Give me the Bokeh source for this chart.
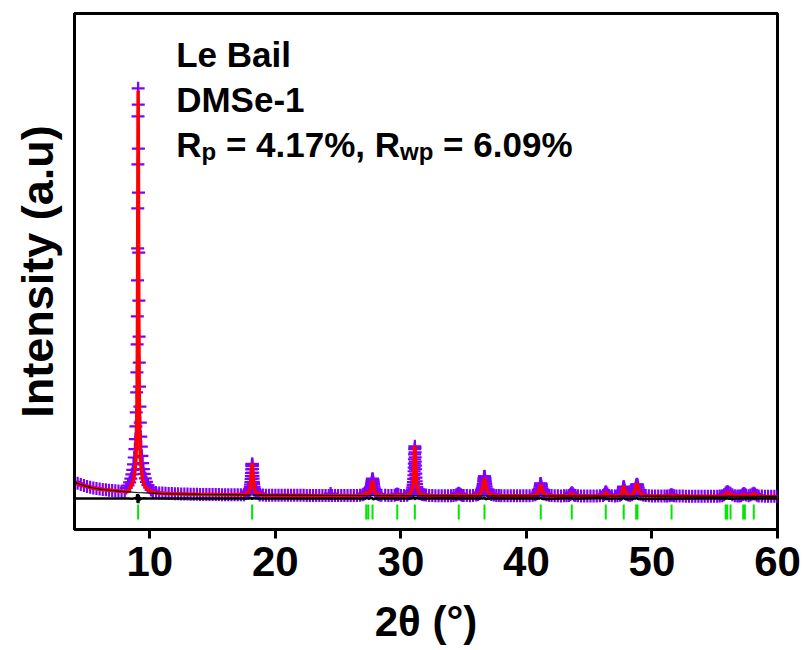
from bokeh.plotting import figure
from bokeh.models import Range1d, FixedTicker, Label
from bokeh.embed import file_html
from bokeh.resources import INLINE

# ---------------- data ----------------
x_ticks = [10, 20, 30, 40, 50, 60]

# observed profile (plotted as + markers)
obs_x = [
    4.0, 4.25, 4.5, 4.75, 5.0, 5.25, 5.5, 5.75, 6.0, 6.25, 6.5, 6.75, 7.0, 7.25, 7.5, 7.75, 8.0,
    8.12, 8.27, 8.39, 8.49, 8.57, 8.64, 8.70, 8.76, 8.81, 8.85, 8.89, 8.92, 8.95, 8.97, 8.99, 9.005,
    9.02, 9.03, 9.04, 9.05, 9.06, 9.07, 9.08, 9.09, 9.10, 9.115, 9.13, 9.145, 9.16, 9.18, 9.21, 9.24,
    9.28, 9.32, 9.37, 9.43, 9.49, 9.56, 9.64, 9.73, 9.85, 9.99,
    10.1, 10.25, 10.5, 10.75, 11.0, 11.25, 11.5, 11.75, 12.0, 12.25, 12.5, 12.75, 13.0, 13.25, 13.5,
    13.75, 14.0, 14.25, 14.5, 14.75, 15.0, 15.25, 15.5, 15.75, 16.0, 16.25, 16.5, 16.75, 17.0, 17.25, 17.5,
    17.65, 17.77, 17.85, 17.91, 17.96, 18.0, 18.03, 18.05, 18.07, 18.085, 18.10, 18.115, 18.13, 18.14,
    18.15, 18.16, 18.17, 18.185, 18.20, 18.215, 18.23, 18.25, 18.27, 18.30, 18.34, 18.39, 18.45,
    18.53, 18.65,
    18.75, 19.0, 19.25, 19.5, 19.75, 20.0, 20.25, 20.5, 20.75, 21.0, 21.25, 21.5, 21.75, 22.0, 22.25,
    22.5, 22.75, 23.0, 23.25, 23.5, 23.75, 24.0, 24.25, 24.4, 24.5, 24.75, 25.0, 25.25, 25.5, 25.75,
    26.0, 26.25, 26.5, 26.75,
    26.95, 27.05, 27.13, 27.2, 27.26, 27.31, 27.36, 27.42, 27.48, 27.53, 27.57, 27.6, 27.63, 27.66,
    27.68, 27.7, 27.72, 27.74, 27.76, 27.78, 27.8, 27.82, 27.85, 27.88, 27.92, 27.97, 28.03, 28.1,
    28.2, 28.32, 28.45,
    28.75, 29.0, 29.25, 29.5, 29.62, 29.71, 29.8, 30.0, 30.25, 30.5,
    30.66, 30.77, 30.85, 30.91, 30.95, 30.98, 31.0, 31.02, 31.035, 31.05, 31.06, 31.07, 31.08, 31.09,
    31.10, 31.11, 31.12, 31.13, 31.14, 31.15, 31.16, 31.17, 31.185, 31.20, 31.22, 31.24, 31.27,
    31.31, 31.37, 31.45, 31.56, 31.71,
    31.85, 32.0, 32.25, 32.5, 32.75, 33.0, 33.25, 33.5, 33.75, 34.0, 34.2,
    34.4, 34.5, 34.58, 34.62, 34.68, 34.78, 34.9,
    35.0, 35.25, 35.5, 35.75, 36.0,
    36.15, 36.28, 36.37, 36.44, 36.49, 36.53, 36.56, 36.59, 36.61, 36.63, 36.65, 36.66, 36.67, 36.69,
    36.71, 36.73, 36.76, 36.79, 36.83, 36.88, 36.95, 37.04, 37.2,
    37.4, 37.6, 37.8, 38.0, 38.25, 38.5, 38.75, 39.0, 39.25, 39.5, 39.75, 40.0, 40.25, 40.5,
    40.7, 40.83, 40.92, 40.99, 41.04, 41.08, 41.11, 41.13, 41.14, 41.15, 41.17, 41.2, 41.24, 41.29,
    41.36, 41.46, 41.6,
    41.8, 42.0, 42.25, 42.5, 42.75, 43.0, 43.2,
    43.4, 43.5, 43.58, 43.62, 43.68, 43.78, 43.9,
    44.1, 44.35, 44.6, 44.85, 45.1, 45.35, 45.6, 45.85,
    46.1, 46.2, 46.28, 46.32, 46.37, 46.45, 46.58,
    46.8, 47.05, 47.25,
    47.45, 47.55, 47.62, 47.67, 47.71, 47.74, 47.75, 47.77, 47.8, 47.84, 47.9, 47.98, 48.1, 48.25,
    48.4, 48.5, 48.58, 48.64, 48.69, 48.73, 48.76, 48.8, 48.83, 48.86, 48.9, 48.95, 49.02, 49.12, 49.3,
    49.5, 49.75, 50.0, 50.25, 50.5, 50.75, 51.0, 51.2,
    51.4, 51.5, 51.56, 51.64, 51.75,
    51.95, 52.2, 52.45, 52.7, 52.95, 53.2, 53.45, 53.7, 53.95, 54.2, 54.45, 54.7, 54.95, 55.2, 55.4,
    55.6, 55.75, 55.87, 55.95, 56.02, 56.1, 56.25, 56.4, 56.6,
    56.8, 56.95,
    57.1, 57.22, 57.3, 57.38, 57.5,
    57.7, 57.85, 58.0, 58.1, 58.2, 58.35, 58.5,
    58.75, 59.0, 59.25, 59.5, 59.75, 60.0,
]
obs_y = [
    1190, 1155, 1125, 1098, 1075, 1055, 1040, 1025, 1013, 1003, 993, 984, 975, 968, 962, 956, 955,
    1040, 1100, 1180, 1270, 1380, 1490, 1630, 1800, 2010, 2260, 2580, 2930, 3430, 3930, 4630, 5330,
    6230, 7030, 8030, 9130, 10330, 11030, 10620, 9520, 8420, 6920, 5720, 4820, 4170, 3570, 3070, 2670,
    2320, 2070, 1840, 1660, 1510, 1390, 1280, 1190, 1110, 1045,
    990, 945, 922, 915, 910, 905, 900, 897, 893, 891, 889, 887, 885, 883, 881,
    880, 878, 877, 876, 875, 874, 873, 872, 871, 870, 869, 868, 868, 867, 866, 870,
    902, 922, 947, 977, 1012, 1062, 1122, 1182, 1262, 1332, 1412, 1502, 1582, 1627,
    1640, 1632, 1592, 1512, 1422, 1342, 1272, 1192, 1132, 1067, 1017, 980, 950,
    924, 904,
    865, 860, 859, 858, 858, 857, 857, 856, 856, 855, 855, 855, 854, 854, 854,
    853, 853, 853, 852, 852, 852, 851, 851, 900, 851, 850, 850, 850, 850, 849,
    849, 849, 850, 856,
    868, 885, 905, 928, 942, 945, 935, 932, 950, 975, 1005, 1040, 1085, 1135,
    1175, 1215, 1250, 1270, 1255, 1220, 1180, 1135, 1080, 1030, 985, 945, 915, 893,
    876, 864, 858,
    855, 852, 851, 858, 875, 890, 872, 852, 850, 855,
    891, 916, 951, 996, 1051, 1116, 1186, 1266, 1356, 1456, 1546, 1646, 1756, 1876,
    2006, 2080, 2036, 1926, 1806, 1696, 1596, 1506, 1396, 1296, 1206, 1136, 1061,
    1006, 956, 921, 894, 878,
    866, 860, 852, 848, 846, 845, 845, 845, 844, 846, 852,
    862, 882, 900, 905, 890, 866, 852,
    850, 847, 845, 850, 862,
    877, 902, 937, 982, 1032, 1087, 1142, 1202, 1252, 1292, 1322, 1330, 1320, 1287,
    1242, 1192, 1132, 1077, 1022, 972, 932, 902, 877,
    860, 852, 848, 846, 844, 843, 842, 842, 841, 841, 841, 842, 846, 855,
    870, 895, 930, 975, 1025, 1075, 1120, 1145, 1150, 1142, 1115, 1070, 1020, 970,
    928, 895, 870,
    858, 850, 845, 842, 840, 841, 845,
    850, 872, 905, 920, 900, 865, 848,
    842, 840, 839, 839, 838, 838, 838, 842,
    850, 878, 920, 945, 925, 885, 852,
    842, 840, 845,
    856, 878, 915, 965, 1020, 1060, 1070, 1055, 1020, 970, 915, 880, 862, 858,
    870, 895, 935, 985, 1040, 1085, 1115, 1130, 1122, 1095, 1050, 995, 935, 890, 860,
    848, 842, 838, 837, 836, 836, 836, 838,
    845, 860, 870, 858, 842,
    837, 835, 835, 834, 834, 834, 833, 833, 833, 832, 832, 832, 832, 834, 838,
    845, 870, 910, 940, 945, 930, 905, 870, 845,
    838, 840,
    845, 875, 900, 890, 860,
    845, 860, 890, 908, 885, 855, 840,
    835, 833, 832, 830, 829, 828,
]

# calculated profile (red line)
calc_x = [
    4.0, 4.25, 4.5, 4.75, 5.0, 5.5, 6.0, 6.5, 7.0, 7.5, 8.0, 8.3,
    8.45, 8.6, 8.72, 8.82, 8.9, 8.95, 8.99, 9.02, 9.04, 9.06, 9.07, 9.08, 9.10, 9.12, 9.15, 9.19,
    9.24, 9.32, 9.42, 9.55, 9.72, 9.9,
    10.2, 10.5, 11.0, 12.0, 13.0, 14.0, 15.0, 16.0, 17.0, 17.5,
    17.65, 17.8, 17.9, 17.98, 18.03, 18.07, 18.10, 18.13, 18.15, 18.17, 18.20, 18.23, 18.27, 18.32,
    18.40, 18.50, 18.65,
    19.0, 20.0, 21.0, 22.0, 23.0, 24.0, 25.0, 26.0, 26.75,
    26.95, 27.1, 27.2, 27.27, 27.33, 27.4, 27.48, 27.55, 27.61, 27.66, 27.7, 27.74, 27.78, 27.82,
    27.87, 27.93, 28.0, 28.1, 28.25, 28.45,
    28.75, 29.25, 29.5, 29.62, 29.71, 29.8, 30.0, 30.5,
    30.65, 30.8, 30.9, 30.97, 31.02, 31.05, 31.08, 31.11, 31.14, 31.17, 31.21, 31.26, 31.33, 31.42,
    31.55, 31.7,
    32.0, 32.5, 33.0, 34.0, 34.4, 34.5, 34.61, 34.72, 34.85, 35.25, 35.75, 36.0,
    36.15, 36.3, 36.4, 36.48, 36.54, 36.59, 36.63, 36.66, 36.69, 36.73, 36.78, 36.85, 36.94, 37.05, 37.2,
    37.5, 38.0, 39.0, 40.0, 40.5,
    40.7, 40.85, 40.95, 41.02, 41.07, 41.11, 41.14, 41.17, 41.21, 41.27, 41.35, 41.46, 41.6,
    41.8, 42.25, 43.0, 43.4, 43.5, 43.61, 43.7, 43.8, 44.5, 45.5,
    46.1, 46.2, 46.28, 46.32, 46.37, 46.45, 46.58, 47.0, 47.45,
    47.57, 47.65, 47.7, 47.75, 47.8, 47.87, 47.97, 48.1, 48.25, 48.4, 48.52, 48.62, 48.7, 48.76,
    48.8, 48.85, 48.92, 49.0, 49.12, 49.3,
    49.6, 50.5, 51.4, 51.5, 51.56, 51.64, 51.75, 53.0, 55.0,
    55.6, 55.75, 55.87, 55.95, 56.02, 56.1, 56.25, 56.4, 56.6,
    57.1, 57.22, 57.3, 57.38, 57.5, 57.7, 57.85, 58.0, 58.1, 58.2, 58.35, 58.5, 59.0, 60.0,
]
calc_y = [
    1188, 1152, 1125, 1098, 1075, 1038, 1013, 993, 975, 962, 950, 948,
    1070, 1140, 1255, 1470, 1800, 2380, 3550, 5400, 7800, 10300, 10975, 10300, 8100, 5800, 3750, 2480,
    1840, 1480, 1250, 1120, 1040, 985,
    935, 918, 908, 893, 885, 878, 874, 870, 867, 866,
    894, 920, 962, 1055, 1195, 1370, 1525, 1635, 1660, 1630, 1505, 1355, 1180, 1050,
    960, 917, 893,
    862, 857, 855, 854, 852, 851, 850, 849, 852,
    868, 888, 915, 925, 918, 910, 925, 960, 1020, 1100, 1180, 1225, 1175, 1100,
    1020, 950, 908, 880, 864, 857,
    853, 850, 853, 862, 870, 860, 850, 850,
    890, 930, 998, 1145, 1415, 1680, 1960, 2100, 1985, 1735, 1420, 1180, 1022, 938,
    897, 878,
    858, 848, 845, 845, 852, 862, 880, 862, 850, 847, 850, 860,
    872, 902, 948, 1012, 1100, 1190, 1250, 1270, 1245, 1175, 1085, 995, 930, 895, 872,
    855, 846, 842, 842, 853,
    866, 895, 948, 1015, 1070, 1102, 1110, 1095, 1050, 982, 920, 882, 865,
    852, 843, 841, 846, 862, 915, 875, 852, 840, 838,
    845, 870, 915, 945, 920, 878, 850, 840, 852,
    878, 945, 1035, 1085, 1040, 950, 885, 860, 856, 868, 900, 975, 1065, 1125,
    1140, 1120, 1040, 955, 892, 858,
    845, 838, 842, 852, 865, 850, 840, 835, 832,
    840, 860, 895, 918, 925, 915, 895, 865, 845,
    840, 862, 880, 870, 850, 842, 853, 880, 900, 878, 850, 838, 832, 828,
]

# background (thin black line)
bkg_x = [4, 4.5, 5, 5.5, 6, 7, 8, 9, 10, 11, 12, 14, 16, 18, 20, 25, 30, 35, 40, 45, 50, 55, 60]
bkg_y = [1188, 1125, 1075, 1038, 1013, 975, 948, 925, 908, 898, 890, 878, 870, 862, 857, 850,
         846, 843, 840, 837, 834, 831, 827]

# difference curve (offset, black line)
diff_x = [4.0, 8.3, 8.6, 8.8, 8.9, 8.95, 9.0, 9.03, 9.06, 9.09, 9.12, 9.16, 9.22, 9.3, 9.5, 9.8,
          17.95, 18.08, 18.15, 18.22, 18.35, 27.2, 27.3, 27.45, 27.68, 27.8, 27.95, 29.6, 29.75,
          30.9, 31.05, 31.12, 31.2, 31.35, 34.5, 34.65, 36.55, 36.65, 36.75, 36.9, 41.05, 41.15,
          41.25, 43.55, 43.65, 46.25, 46.35, 47.68, 47.76, 47.85, 48.7, 48.8, 48.9, 56.0, 56.1,
          58.05, 58.15, 60.0]
diff_y = [775, 775, 768, 785, 760, 800, 880, 665, 895, 655, 860, 720, 800, 765, 780, 775,
          775, 800, 750, 795, 775, 775, 795, 765, 800, 750, 780, 778, 772,
          775, 810, 745, 800, 775, 780, 772, 775, 805, 755, 775, 775, 795,
          765, 783, 770, 785, 768, 775, 792, 765, 775, 795, 760, 782, 770,
          780, 772, 775]

# Bragg reflection positions (green ticks)
bragg_x = [9.07, 18.15, 27.24, 27.40, 27.74, 29.71, 31.11, 34.61, 36.66, 41.14, 43.61, 46.32,
           47.75, 48.74, 48.85, 51.56, 55.87, 55.99, 56.26, 57.27, 57.40, 58.11]

assert len(obs_x) == len(obs_y)
assert len(calc_x) == len(calc_y)
assert len(diff_x) == len(diff_y)
assert len(bkg_x) == len(bkg_y)

# ---------------- styling constants ----------------
FONT = "Liberation Sans"
OBS_COLOR = "#8000ff"
CALC_COLOR = "#ff0000"
BRAGG_COLOR = "#00e600"
TICK_LOW, TICK_HIGH = 250, 625
NB = "\u00a0"

p = figure(width=806, height=650, x_range=Range1d(4, 60), y_range=Range1d(0, 12900),
           output_backend="svg", toolbar_location=None,
           min_border_left=74, min_border_right=29, min_border_top=13, min_border_bottom=121)
p.background_fill_color = "white"
p.border_fill_color = "white"
p.xgrid.visible = False
p.ygrid.visible = False
p.outline_line_color = "black"
p.outline_line_width = 3

xa = p.xaxis[0]
xa.ticker = FixedTicker(ticks=x_ticks)
xa.axis_line_width = 3
xa.major_tick_line_width = 3
xa.major_tick_out = 9
xa.major_tick_in = 0
xa.minor_tick_line_color = None
xa.major_label_text_font = FONT
xa.major_label_text_font_style = "bold"
xa.major_label_text_font_size = "42px"
xa.major_label_text_color = "black"
xa.major_label_standoff = 8
xa.axis_label = "2θ (°)"
xa.axis_label_text_font = FONT
xa.axis_label_text_font_style = "bold"
xa.axis_label_text_font_size = "42px"
xa.axis_label_text_color = "black"
xa.axis_label_standoff = 19

ya = p.yaxis[0]
ya.ticker = FixedTicker(ticks=[])
ya.axis_line_width = 3
ya.major_tick_line_color = None
ya.minor_tick_line_color = None
ya.major_tick_out = 0
ya.major_tick_in = 0
ya.major_label_text_font_size = "0px"
ya.axis_label = "Intensity (a.u)"
ya.axis_label_text_font = FONT
ya.axis_label_text_font_style = "bold"
ya.axis_label_text_font_size = "45px"
ya.axis_label_text_color = "black"
ya.axis_label_standoff = 12

# observed
p.scatter(obs_x, obs_y, marker="cross", size=13, line_color=OBS_COLOR, line_width=2.2)
# calculated
p.line(calc_x, calc_y, line_color=CALC_COLOR, line_width=3.5)
# background
p.line(bkg_x, bkg_y, line_color="black", line_width=1.2)
# difference
p.line(diff_x, diff_y, line_color="black", line_width=2.5)
# Bragg positions
p.segment(x0=bragg_x, y0=[TICK_LOW] * len(bragg_x), x1=bragg_x, y1=[TICK_HIGH] * len(bragg_x),
          line_color=BRAGG_COLOR, line_width=2)

# annotation text
TX = 12.1
FS, SFS = "35px", "24px"


def lab(text, y, xoff=0, yoff=0, size=FS):
    p.add_layout(Label(x=TX, y=y, x_offset=xoff, y_offset=yoff, text=text,
                       text_font=FONT, text_font_style="bold", text_font_size=size,
                       text_color="black", text_baseline="alphabetic", text_align="left"))


lab("Le" + NB + "Bail", 11875)
lab("DMSe-1", 10750)
lab("R", 9625, 0)
lab("p", 9625, 25.3, -7, SFS)
lab(NB + "=" + NB + "4.17%," + NB + "R", 9625, 40.0)
lab("wp", 9625, 223.9, -7, SFS)
lab(NB + "=" + NB + "6.09%", 9625, 257.2)

open("out.html", "w").write(file_html(p, INLINE))
